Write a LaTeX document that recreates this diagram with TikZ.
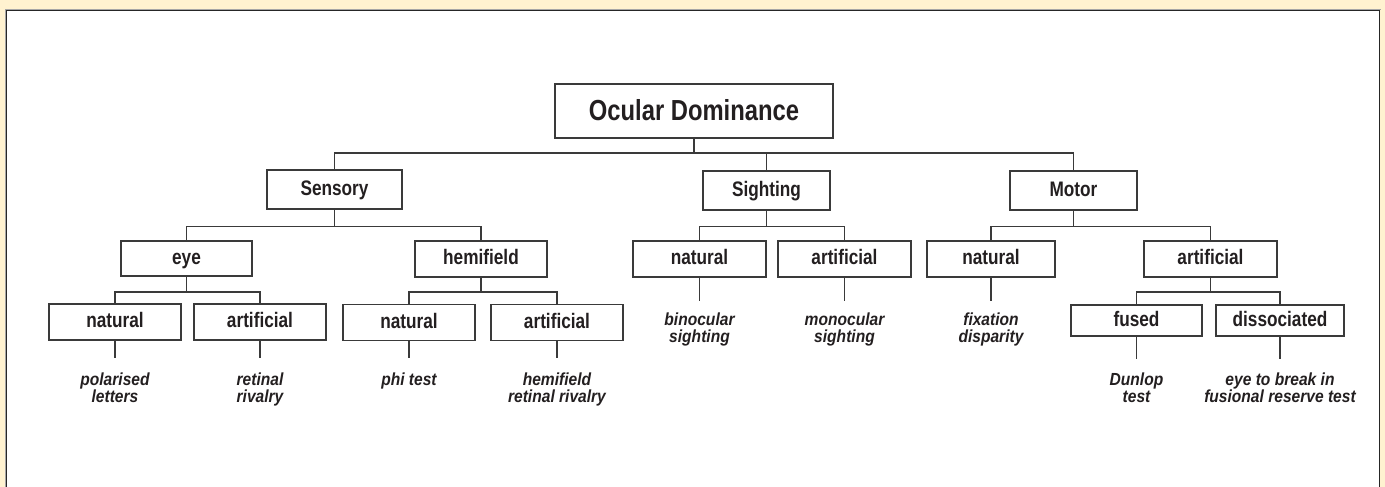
\documentclass[tikz,border=0pt]{standalone}
\usepackage{fontspec}
\newfontfamily\boxfont[FakeStretch=0.82]{Liberation Sans}
\newfontfamily\leaffont[FakeStretch=0.89]{Liberation Sans}
\definecolor{cream}{RGB}{255,242,208}
\definecolor{ink}{RGB}{35,31,32}
\definecolor{wire}{RGB}{58,58,58}
\tikzset{
  box/.style={draw=wire, line width=1.3pt, fill=white, text=ink, inner sep=0pt,
    text height=15.5pt, text depth=4.5pt,
    font=\boxfont\bfseries\fontsize{21}{22}\selectfont},
  rootbox/.style={box, text height=22pt, text depth=3pt,
    font=\boxfont\bfseries\fontsize{29}{30}\selectfont},
  leaf/.style={anchor=north, align=center, text=ink, inner xsep=0pt, inner ysep=15pt,
    font=\leaffont\bfseries\itshape\fontsize{17.5}{17}\selectfont},
  wireline/.style={draw=wire, line width=1.3pt}
}
\begin{document}
\begin{tikzpicture}[x=1pt,y=-1pt]
\useasboundingbox (0,0) rectangle (1385,487);
\clip (0,0) rectangle (1385,487);
\fill[cream] (0,0) rectangle (1385,487);
\fill[white] (6.5,10.5) rectangle (1379.5,520);
\draw[gray!70, line width=1pt] (5.2,9.2) -- (1380.8,9.2);
\draw[gray!70, line width=1pt] (5.2,9.2) -- (5.2,520);
\draw[black!85, line width=1.8pt] (6.5,520) -- (6.5,10.5) -- (1379.5,10.5) -- (1379.5,520);

% nodes
\node[rootbox, minimum width=278pt, minimum height=54pt] (root) at (694,111) {Ocular Dominance};
\node[box, minimum width=135pt, minimum height=39pt] (sens) at (334.5,189.5) {Sensory};
\node[box, minimum width=127pt, minimum height=39pt] (sight) at (766.5,190.5) {Sighting};
\node[box, minimum width=127pt, minimum height=39pt] (motor) at (1073.5,190.5) {Motor};

\node[box, minimum width=131pt, minimum height=35pt] (eye) at (186.5,258.5) {eye};
\node[box, minimum width=132pt, minimum height=36pt] (hemi) at (481,259) {hemifield};
\node[box, minimum width=133pt, minimum height=36pt] (snat) at (699.5,259) {natural};
\node[box, minimum width=133pt, minimum height=36pt] (sart) at (844.5,259) {artificial};
\node[box, minimum width=128pt, minimum height=36pt] (mnat) at (991,259) {natural};
\node[box, minimum width=133pt, minimum height=36pt] (mart) at (1210.5,259) {artificial};

\node[box, minimum width=132pt, minimum height=36pt] (enat) at (115,322) {natural};
\node[box, minimum width=132pt, minimum height=36pt] (eart) at (260,322) {artificial};
\node[box, minimum width=132pt, minimum height=36pt] (hnat) at (409,322.5) {natural};
\node[box, minimum width=132pt, minimum height=36pt] (hart) at (557,322.5) {artificial};
\node[box, minimum width=131pt, minimum height=31pt] (fused) at (1136.5,320.5) {fused};
\node[box, minimum width=128pt, minimum height=31pt] (diss) at (1280,320.5) {dissociated};

% leaves
\node[leaf] (l1) at (115,358) {polarised\\letters};
\node[leaf] (l2) at (260,358) {retinal\\rivalry};
\node[leaf] (l3) at (409,358) {phi test};
\node[leaf] (l4) at (557,358) {hemifield\\retinal rivalry};
\node[leaf, inner ysep=12pt] (l5) at (699.5,301) {binocular\\sighting};
\node[leaf, inner ysep=12pt] (l6) at (844.5,301) {monocular\\sighting};
\node[leaf, inner ysep=12pt] (l7) at (991,301) {fixation\\disparity};
\node[leaf, inner ysep=14pt] (l8) at (1136.5,359) {Dunlop\\test};
\node[leaf, inner ysep=14pt] (l9) at (1280,359) {eye to break in\\fusional reserve test};

% bus levels
\coordinate (b0) at (0,153);
\coordinate (b1) at (0,226.5);
\coordinate (b2) at (0,292);

% connectors level 1
\draw[wireline] (root.south) -- (root.south |- b0);
\draw[wireline] (sens.north) -- (sens.north |- b0) -| (motor.north);
\draw[wireline] (sight.north) -- (sight.north |- b0);

% Sensory
\draw[wireline] (sens.south) -- (sens.south |- b1);
\draw[wireline] (eye.north) -- (eye.north |- b1) -| (hemi.north);
% Sighting
\draw[wireline] (sight.south) -- (sight.south |- b1);
\draw[wireline] (snat.north) -- (snat.north |- b1) -| (sart.north);
% Motor
\draw[wireline] (motor.south) -- (motor.south |- b1);
\draw[wireline] (mnat.north) -- (mnat.north |- b1) -| (mart.north);

% eye
\draw[wireline] (eye.south) -- (eye.south |- b2);
\draw[wireline] (enat.north) -- (enat.north |- b2) -| (eart.north);
% hemifield
\draw[wireline] (hemi.south) -- (hemi.south |- b2);
\draw[wireline] (hnat.north) -- (hnat.north |- b2) -| (hart.north);
% motor artificial
\draw[wireline] (mart.south) -- (mart.south |- b2);
\draw[wireline] (fused.north) -- (fused.north |- b2) -| (diss.north);

% leaf lines
\draw[wireline] (enat.south) -- (l1.north);
\draw[wireline] (eart.south) -- (l2.north);
\draw[wireline] (hnat.south) -- (l3.north);
\draw[wireline] (hart.south) -- (l4.north);
\draw[wireline] (snat.south) -- (l5.north);
\draw[wireline] (sart.south) -- (l6.north);
\draw[wireline] (mnat.south) -- (l7.north);
\draw[wireline] (fused.south) -- (l8.north);
\draw[wireline] (diss.south) -- (l9.north);
\end{tikzpicture}
\end{document}
